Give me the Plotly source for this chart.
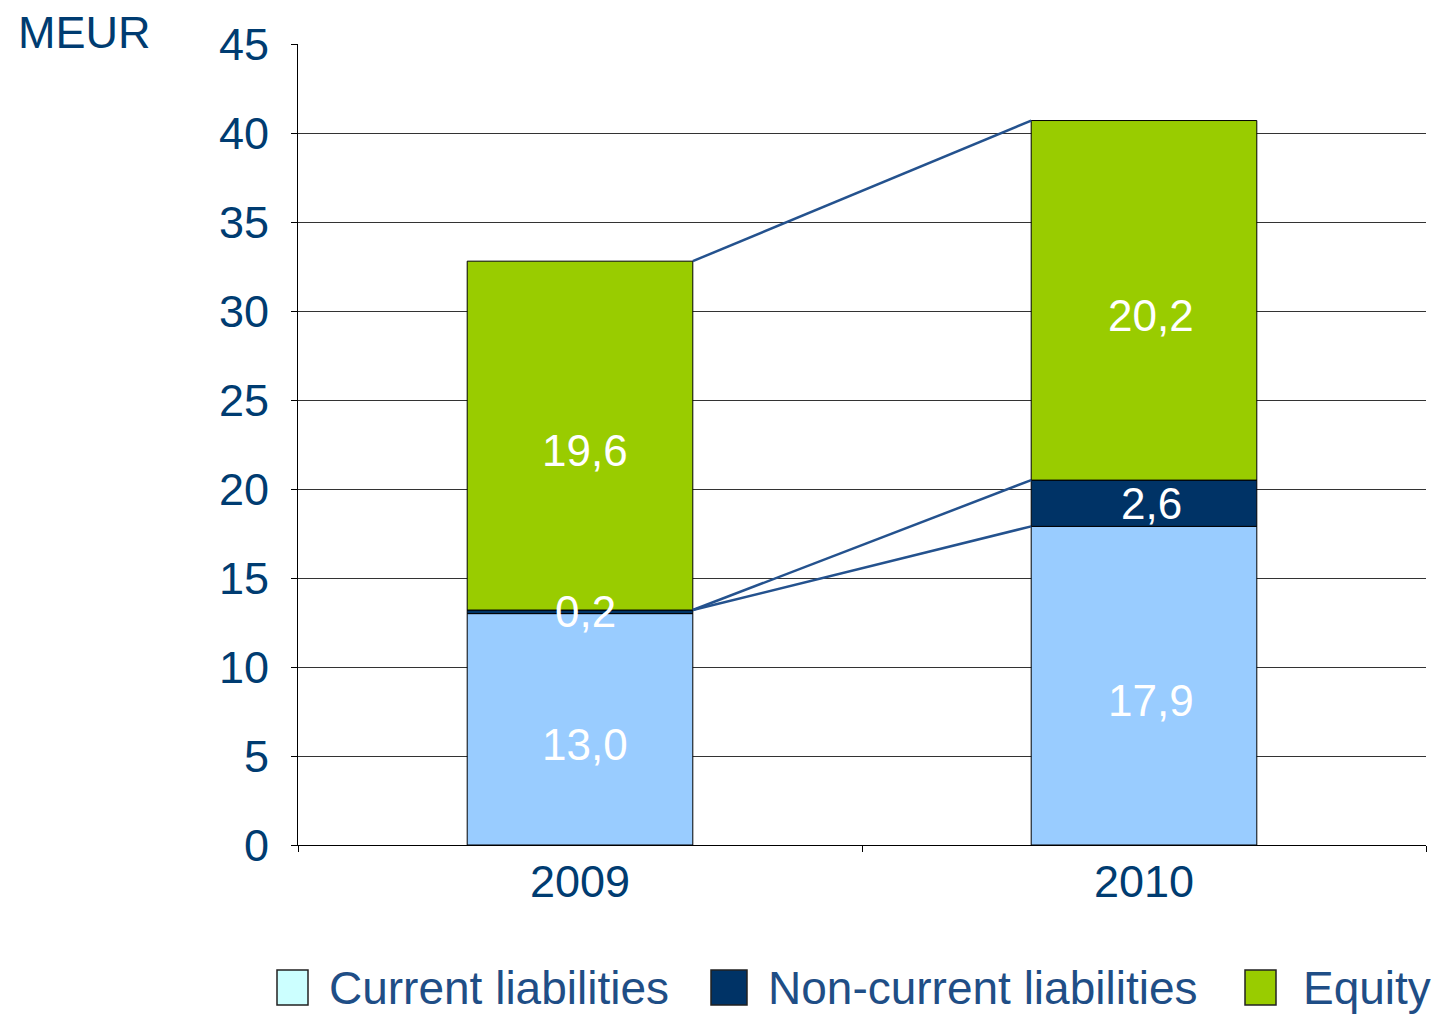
import plotly.graph_objects as go

years = ["2009", "2010"]
current = [13.0, 17.9]
noncurrent = [0.2, 2.6]
equity = [19.6, 20.2]
labels_current = ["13,0", "17,9"]
labels_noncurrent = ["0,2", "2,6"]
labels_equity = ["19,6", "20,2"]
series_names = ["Current liabilities", "Non-current liabilities", "Equity"]
yticks = [0, 5, 10, 15, 20, 25, 30, 35, 40, 45]

C_CUR = "#99ccff"
C_NON = "#003366"
C_EQ = "#99cc00"
C_LEG_CUR = "#ccffff"
NAVY = "#003c71"
LINE = "#24528e"
FONT = "Liberation Sans, Arial, sans-serif"

xs = list(range(len(years)))
W = 0.4

fig = go.Figure()
for vals, col, base in [
    (current, C_CUR, [0, 0]),
    (noncurrent, C_NON, current),
    (equity, C_EQ, [c + n for c, n in zip(current, noncurrent)]),
]:
    fig.add_trace(go.Bar(x=xs, y=vals, base=base, width=W,
                         marker=dict(color=col, line=dict(color="#000000", width=1)),
                         showlegend=False, hoverinfo="skip"))

# connector lines between bars
tot = [c + n + e for c, n, e in zip(current, noncurrent, equity)]
mid = [c + n for c, n in zip(current, noncurrent)]
for y0, y1 in [(tot[0], tot[1]), (mid[0], mid[1]), (mid[0], current[1])]:
    fig.add_trace(go.Scatter(x=[xs[0] + W / 2, xs[1] - W / 2], y=[y0, y1],
                             mode="lines", line=dict(color=LINE, width=2.5),
                             showlegend=False, hoverinfo="skip"))

# data labels
for i in xs:
    c, n, e = current[i], noncurrent[i], equity[i]
    for y, txt, sh in [(c / 2, labels_current[i], -15), (c + n / 2, labels_noncurrent[i], 0),
                       (c + n + e / 2, labels_equity[i], -15)]:
        fig.add_annotation(x=i, y=y, text=txt, showarrow=False, yshift=sh, xshift=5 + 2 * i,
                           font=dict(family=FONT, size=44, color="#ffffff"))

fig.update_layout(
    width=1441, height=1014,
    margin=dict(l=298, r=15, t=44, b=169),
    paper_bgcolor="white", plot_bgcolor="white",
    barmode="overlay",
    xaxis=dict(range=[-0.5, 1.5], tickvals=xs, ticktext=years, ticks="", showgrid=False, zeroline=False,
               showline=True, linecolor="#000000", linewidth=1, ticklabelstandoff=-3,
               tickfont=dict(family=FONT, size=45, color=NAVY)),
    xaxis2=dict(range=[-0.5, 1.5], overlaying="x", side="bottom", tickvals=[-0.5, 0.5, 1.5], ticks="outside",
                ticklen=6, tickcolor="#000000", showticklabels=False, showgrid=False, zeroline=False,
                showline=False),
    yaxis=dict(range=[0, 45], tickvals=yticks, ticks="outside", ticklen=6, tickcolor="#000000",
               showgrid=True, gridcolor="#333333", gridwidth=1, zeroline=False, showline=True,
               linecolor="#000000", linewidth=1, ticklabelstandoff=13,
               tickfont=dict(family=FONT, size=45, color=NAVY)),
)
fig.add_trace(go.Scatter(x=[None], y=[None], xaxis="x2", showlegend=False))

fig.add_annotation(xref="paper", yref="paper", x=(16 - 298) / 1128, y=(845 - 33) / 801,
                   xanchor="left", yanchor="middle",
                   text="MEUR", showarrow=False, font=dict(family=FONT, size=45, color=NAVY))

# custom legend
leg = [(277, 308, C_LEG_CUR, 327), (711, 747, C_NON, 766), (1245, 1276, C_EQ, 1301)]
for (x0, x1, col, tx), name in zip(leg, series_names):
    fig.add_shape(type="rect", xref="paper", yref="paper",
                  x0=(x0 - 298) / 1128, x1=(x1 - 298) / 1128,
                  y0=(845 - 1005) / 801, y1=(845 - 970) / 801,
                  fillcolor=col, line=dict(color="#222222", width=1.5))
    fig.add_annotation(xref="paper", yref="paper", x=(tx - 298) / 1128, y=(845 - 988) / 801,
                       xanchor="left", yanchor="middle", text=name, showarrow=False,
                       font=dict(family=FONT, size=46, color="#1f4e86"))

fig.write_html("out.html", config={"displayModeBar": False},
               post_script="document.body.style.margin='0';document.body.style.overflow='hidden';")
